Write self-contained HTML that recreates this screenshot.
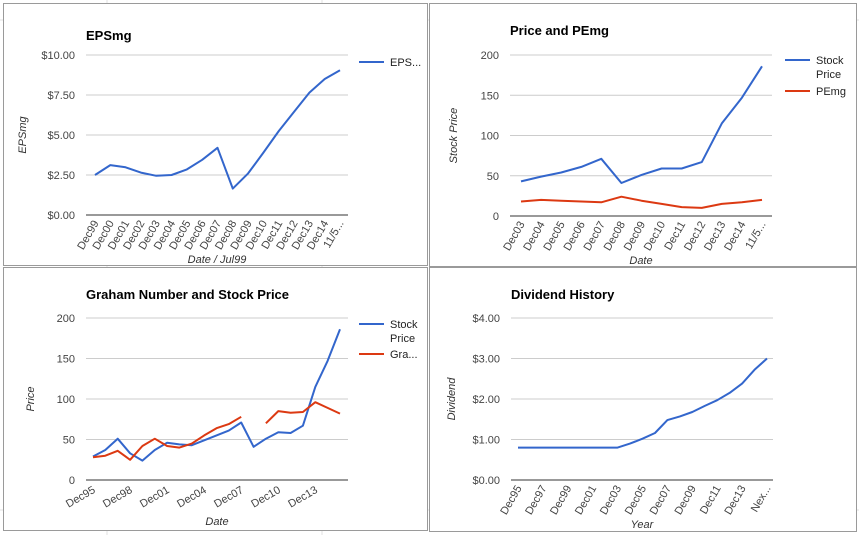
<!DOCTYPE html>
<html><head><meta charset="utf-8"><style>
body{margin:0;background:#fff;}
svg{display:block;font-family:"Liberation Sans",Arial,sans-serif;}
</style></head><body>
<svg id="root" width="859" height="535">
<g stroke="#e2e2e2" stroke-width="1">
<line x1="107" y1="0" x2="107" y2="535"/><line x1="322" y1="0" x2="322" y2="535"/>
<line x1="0" y1="20" x2="859" y2="20"/><line x1="0" y1="510" x2="859" y2="510"/>
</g>
<rect x="3.5" y="3.5" width="424" height="262" fill="#fff" stroke="#9a9a9a"/>
<rect x="429.5" y="3.5" width="427" height="263" fill="#fff" stroke="#9a9a9a"/>
<rect x="3.5" y="267.5" width="424" height="263" fill="#fff" stroke="#9a9a9a"/>
<rect x="429.5" y="267.5" width="427" height="264" fill="#fff" stroke="#9a9a9a"/>
</svg>
<script>
// Chart 1: EPSmg
const epsCats = ["Dec99","Dec00","Dec01","Dec02","Dec03","Dec04","Dec05","Dec06","Dec07","Dec08","Dec09","Dec10","Dec11","Dec12","Dec13","Dec14","11/5..."];
const epsValues = [2.5,3.12,2.98,2.65,2.45,2.5,2.85,3.45,4.2,1.65,2.6,3.9,5.25,6.45,7.65,8.5,9.05];
const epsTicks = ["$0.00","$2.50","$5.00","$7.50","$10.00"];
const epsTickVals = [0,2.5,5,7.5,10];
// Chart 2: Price and PEmg
const pCats = ["Dec03","Dec04","Dec05","Dec06","Dec07","Dec08","Dec09","Dec10","Dec11","Dec12","Dec13","Dec14","11/5..."];
const pStock = [43,49,54,61,71,41,51,59,59,67,115,147,186];
const pPE = [18,20,19,18,17,24,19,15,11,10,15,17,20];
const pTickVals = [0,50,100,150,200];
const pTicks = ["0","50","100","150","200"];
// Chart 3: Graham number and stock price
const gCats = ["Dec95","Dec96","Dec97","Dec98","Dec99","Dec00","Dec01","Dec02","Dec03","Dec04","Dec05","Dec06","Dec07","Dec08","Dec09","Dec10","Dec11","Dec12","Dec13","Dec14","11/5"];
const gStock = [29,37,51,33,24,37,46,44,43,49,55,61,71,41,51,59,58,67,115,147,186];
const gGraham = [28,30,36,25,42,51,42,40,45,55,64,69,78,null,70,85,83,84,96,89,82];
const gTickVals = [0,50,100,150,200];
const gTicks = ["0","50","100","150","200"];
// Chart 4: Dividend history
const dCats = ["Dec95","Dec96","Dec97","Dec98","Dec99","Dec00","Dec01","Dec02","Dec03","Dec04","Dec05","Dec06","Dec07","Dec08","Dec09","Dec10","Dec11","Dec12","Dec13","Dec14","Next"];
const dLabels = ["Dec95","","Dec97","","Dec99","","Dec01","","Dec03","","Dec05","","Dec07","","Dec09","","Dec11","","Dec13","","Nex..."];
const dValues = [0.8,0.8,0.8,0.8,0.8,0.8,0.8,0.8,0.8,0.9,1.02,1.16,1.48,1.57,1.68,1.83,1.97,2.15,2.38,2.72,3.0];
const dTickVals = [0,1,2,3,4];
const dTicks = ["$0.00","$1.00","$2.00","$3.00","$4.00"];

const NS="http://www.w3.org/2000/svg";
const root=document.getElementById('root');
function mk(tag,attrs,parent,txt){const e=document.createElementNS(NS,tag);for(const k in attrs)e.setAttribute(k,attrs[k]);if(txt!==undefined)e.textContent=txt;(parent||root).appendChild(e);return e;}

function chart(o){
  const g=mk('g',{});
  
  
  const yS=v=>o.y0-(v-o.vmin)/(o.vmax-o.vmin)*(o.y0-o.y1);
  const xS=i=>o.xa+i*(o.xb-o.xa)/(o.cats.length-1);
  const t=mk('text',{x:o.px,y:o.ty,'font-size':13,'font-weight':'bold',fill:'#000'},g,o.title);
  
  
  o.tickVals.forEach((v,i)=>{
    const ln=mk('line',{x1:o.px,x2:o.pr,y1:yS(v),y2:yS(v),stroke:i===0?'#333':'#ccc','stroke-width':1},g);
    
    
    const tl=mk('text',{x:o.px-11,y:yS(v)+4,'font-size':11,fill:'#444','text-anchor':'end'},g,o.ticks[i]);
    
    
  });
  o.labels.forEach((l,i)=>{
    if(!l)return;
    const x=xS(i)+o.lx, y=o.ly;
    const tl=mk('text',{x:x,y:y,'font-size':11,fill:'#444','text-anchor':'end',transform:`rotate(${o.rot} ${x} ${y})`},g,l);
    
    
  });
  const xt=mk('text',{x:(o.px+o.pr)/2,y:o.xty,'font-size':11,'font-style':'italic',fill:'#333','text-anchor':'middle'},g,o.xTitle);
  
  
  const yt=mk('text',{x:o.ytx,y:(o.y0+o.y1)/2,'font-size':11,'font-style':'italic',fill:'#333','text-anchor':'middle',transform:`rotate(-90 ${o.ytx} ${(o.y0+o.y1)/2})`},g,o.yTitle);
  
  
  o.series.forEach((s,si)=>{
    let d='',pen=false;
    s.vals.forEach((v,i)=>{ if(v===null){pen=false;return;} d+=(pen?'L':'M')+xS(i).toFixed(1)+' '+yS(v).toFixed(1)+' '; pen=true;});
    const p=mk('path',{d:d,fill:'none',stroke:s.color,'stroke-width':2,'stroke-linejoin':'round'},g);
    
    
    const ly=o.legY+s.dy;
    const lg=mk('g',{},g);
    
    
    mk('line',{x1:o.legX,x2:o.legX+25,y1:ly,y2:ly,stroke:s.color,'stroke-width':2},lg);
    s.label.forEach((ln,k)=>mk('text',{x:o.legX+31,y:ly+4+k*14,'font-size':11,fill:'#222'},lg,ln));
  });
}

chart({name:'eps-chart',title:'EPSmg',cats:epsCats,labels:epsCats,px:86,pr:348,ty:40,xa:95,xb:340,y0:215,y1:55,vmin:0,vmax:10,
 tickVals:epsTickVals,ticks:epsTicks,rot:-60,lx:4,ly:223,xTitle:'Date / Jul99',xty:263,yTitle:'EPSmg',ytx:26,
 legX:359,legY:62,series:[{id:'eps',vals:epsValues,color:'#3366cc',label:['EPS...'],dy:0}]});

chart({name:'price-pe-chart',title:'Price and PEmg',cats:pCats,labels:pCats,px:510,pr:772,ty:35,xa:521,xb:762,y0:216,y1:55,vmin:0,vmax:200,
 tickVals:pTickVals,ticks:pTicks,rot:-60,lx:4,ly:224,xTitle:'Date',xty:264,yTitle:'Stock Price',ytx:457,
 legX:785,legY:60,series:[{id:'stock-price',vals:pStock,color:'#3366cc',label:['Stock','Price'],dy:0},{id:'pemg',vals:pPE,color:'#dc3912',label:['PEmg'],dy:31}]});

chart({name:'graham-chart',title:'Graham Number and Stock Price',cats:gCats,labels:gCats.map((c,i)=>i%3===0&&i<20?c:''),px:86,pr:348,ty:299,xa:93,xb:340,y0:480,y1:318,vmin:0,vmax:200,
 tickVals:gTickVals,ticks:gTicks,rot:-30,lx:3,ly:492,xTitle:'Date',xty:525,yTitle:'Price',ytx:34,
 legX:359,legY:324,series:[{id:'stock-price',vals:gStock,color:'#3366cc',label:['Stock','Price'],dy:0},{id:'graham-number',vals:gGraham,color:'#dc3912',label:['Gra...'],dy:30}]});

chart({name:'dividend-chart',title:'Dividend History',cats:dCats,labels:dLabels,px:511,pr:773,ty:299,xa:518,xb:767,y0:480,y1:318,vmin:0,vmax:4,
 tickVals:dTickVals,ticks:dTicks,rot:-60,lx:4,ly:488,xTitle:'Year',xty:528,yTitle:'Dividend',ytx:455,
 legX:2000,legY:0,series:[{id:'dividend',vals:dValues,color:'#3366cc',label:[],dy:0}]});
</script>
</body></html>
